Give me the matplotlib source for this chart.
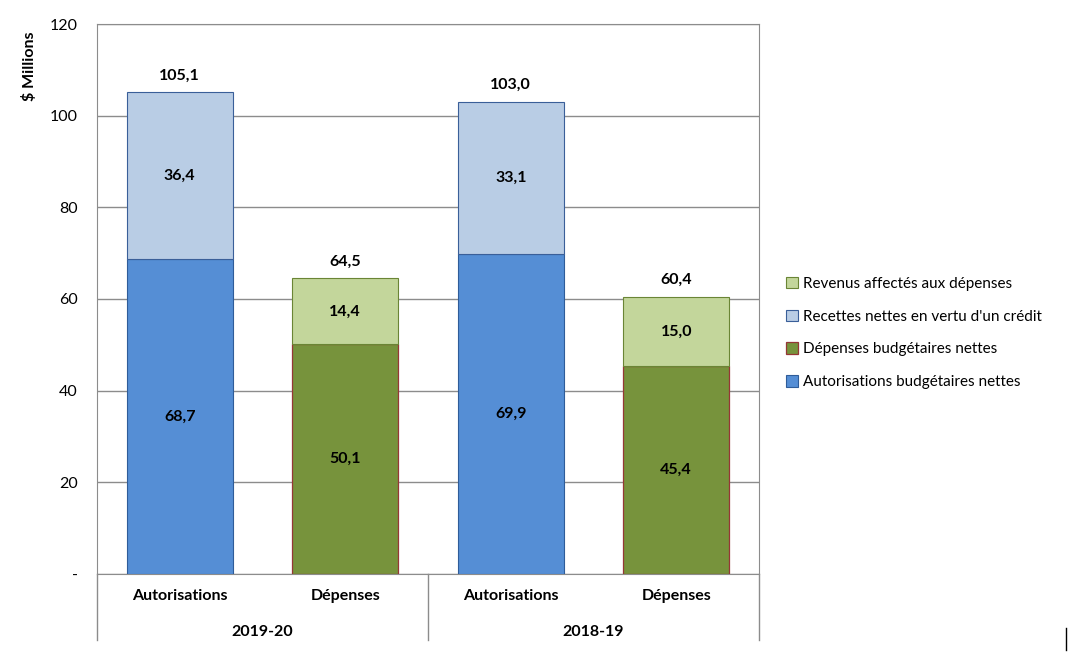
import matplotlib.pyplot as plt
import numpy as np

plt.rcParams['font.family'] = ['Lato', 'DejaVu Sans']

# Data
years = ['2019-20', '2018-19']
kinds = ['Autorisations', 'Dépenses']
auth_net = [68.7, 69.9]
auth_rec = [36.4, 33.1]
dep_net = [50.1, 45.4]
dep_rev = [14.4, 15.0]

c_blue = '#558ED5'
c_lblue = '#B9CDE5'
c_olive = '#77933C'
c_lgreen = '#C3D69B'

fig = plt.figure(figsize=(10.68, 6.59), dpi=100)
ax = fig.add_axes([97/1068, 1-574/659, 662/1068, 550/659])

x_auth = np.array([0, 2])
x_dep = np.array([1, 3])
w = 0.64

b1 = ax.bar(x_auth, auth_net, w, color=c_blue, edgecolor='#2F5C99', lw=0.8, zorder=3)
b2 = ax.bar(x_auth, auth_rec, w, bottom=auth_net, color=c_lblue, edgecolor='#3A5F99', lw=0.8, zorder=3)
b3 = ax.bar(x_dep, dep_net, w, color=c_olive, edgecolor='#953735', lw=0.9, zorder=3)
b4 = ax.bar(x_dep, dep_rev, w, bottom=dep_net, color=c_lgreen, edgecolor='#6A8535', lw=0.8, zorder=3)

def fmt(v):
    return f'{v:.1f}'.replace('.', ',')

lab = dict(ha='center', va='center', fontsize=11.5, fontweight='bold', color='black', zorder=4)
for i in range(2):
    ax.text(x_auth[i], auth_net[i] / 2, fmt(auth_net[i]), **lab)
    ax.text(x_auth[i], auth_net[i] + auth_rec[i] / 2, fmt(auth_rec[i]), **lab)
    ax.text(x_auth[i], auth_net[i] + auth_rec[i] + 3.7, fmt(auth_net[i] + auth_rec[i]), **lab)
    ax.text(x_dep[i], dep_net[i] / 2, fmt(dep_net[i]), **lab)
    ax.text(x_dep[i], dep_net[i] + dep_rev[i] / 2, fmt(dep_rev[i]), **lab)
    ax.text(x_dep[i], dep_net[i] + dep_rev[i] + 3.7, fmt(dep_net[i] + dep_rev[i]), **lab)

ax.set_xlim(-0.5, 3.5)
ax.set_ylim(0, 120)
ax.set_yticks([0, 20, 40, 60, 80, 100, 120])
ax.set_yticklabels(['-', '20', '40', '60', '80', '100', '120'], fontsize=11.5)
ax.yaxis.grid(True, color='#8C8C8C', lw=1, zorder=0)
ax.tick_params(axis='y', length=0, pad=14)
ax.set_xticks([])
for s in ax.spines.values():
    s.set_color('#8C8C8C')

ax.set_ylabel('$ Millions', fontsize=11.5, fontweight='bold')
ax.yaxis.set_label_coords(-0.09, 0.924)

# category axis below
for i, k in enumerate(kinds * 2):
    ax.text(i, -4.9, k, ha='center', va='center',
            fontsize=11.5, fontweight='bold', clip_on=False)
for j, y in enumerate(years):
    ax.text(0.5 + 2 * j, -12.7, y, ha='center', va='center',
            fontsize=11.5, fontweight='bold', clip_on=False)
for xv in [-0.5, 1.5, 3.5]:
    ax.plot([xv, xv], [0, -14.5], color='#8C8C8C', lw=1, clip_on=False)

handles = [b4, b2, b3, b1]
labels = ['Revenus affectés aux dépenses', "Recettes nettes en vertu d'un crédit",
          'Dépenses budgétaires nettes', 'Autorisations budgétaires nettes']
fig.legend(handles, labels, loc='upper left', bbox_to_anchor=(772/1068, 1-263/659),
           frameon=False, fontsize=11, handlelength=0.8, handleheight=0.8,
           handletextpad=0.3, labelspacing=1.22)

# small frame mark at bottom right
fig.add_artist(plt.Line2D([1066/1068, 1066/1068], [1-628/659, 1-650/659],
                          color='black', lw=1))

fig.savefig('out.png', dpi=100)
